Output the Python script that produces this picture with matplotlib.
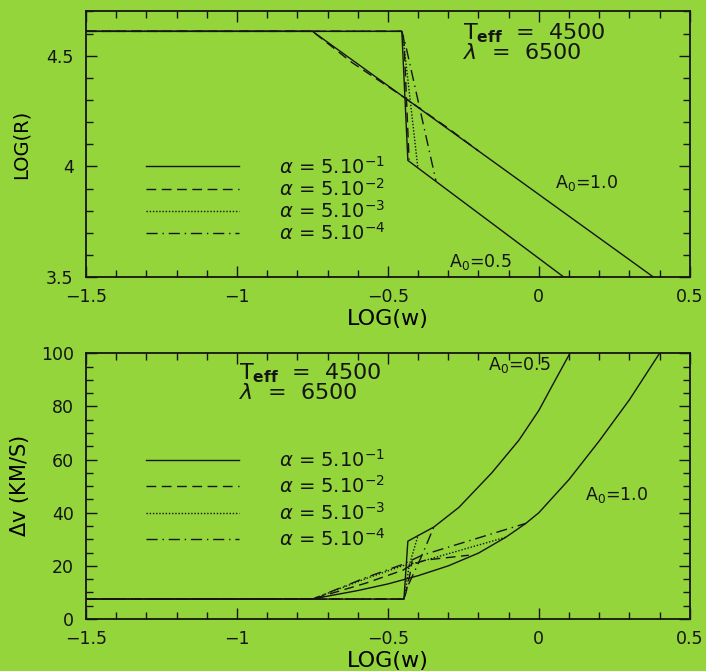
import matplotlib
matplotlib.use("Agg")
import matplotlib.pyplot as plt
from matplotlib.ticker import MultipleLocator

BG = "#93d53b"
INK = "#151515"

# ---- top panel: LOG(R) vs LOG(w) ----
top_a1_solid_x = [-1.5, -0.75, 0.38]
top_a1_solid_y = [4.61, 4.61, 3.5]
top_a1_dashed_x = [-1.5, -0.75, -0.62, -0.45, -0.3, -0.2]
top_a1_dashed_y = [4.61, 4.61, 4.47, 4.315, 4.172, 4.07]

top_a05_solid_x = [-1.5, -0.454, -0.434, 0.083]
top_a05_solid_y = [4.61, 4.61, 4.027, 3.5]
top_a05_dashed_x = [-1.5, -0.454, -0.447, -0.43]
top_a05_dashed_y = [4.61, 4.61, 4.57, 4.03]
top_a05_dotted_x = [-1.5, -0.454, -0.448, -0.401]
top_a05_dotted_y = [4.61, 4.61, 4.56, 3.995]
top_a05_dashdot_x = [-1.5, -0.454, -0.445, -0.341]
top_a05_dashdot_y = [4.61, 4.61, 4.57, 3.935]

# ---- bottom panel: delta v vs LOG(w) ----
bot_a1_solid_x = [-1.5, -0.75, -0.7, -0.6, -0.5, -0.4, -0.3, -0.2, -0.109, -0.043, 0.0, 0.1, 0.2, 0.3, 0.4]
bot_a1_solid_y = [7.5, 7.5, 8.6, 10.7, 13.2, 16.3, 20.0, 24.8, 30.8, 36.0, 40.0, 52.5, 67.0, 82.5, 100.0]
bot_a1_dashed_x = [-1.5, -0.75, -0.573, -0.45, -0.42, -0.374, -0.232]
bot_a1_dashed_y = [7.5, 7.5, 13.5, 18.4, 20.5, 22.2, 24.0]
bot_a1_dotted_x = [-1.5, -0.75, -0.573, -0.45, -0.397, -0.109]
bot_a1_dotted_y = [7.5, 7.5, 15.2, 20.1, 21.4, 30.8]
bot_a1_dashdot_x = [-1.5, -0.75, -0.573, -0.45, -0.387, -0.043]
bot_a1_dashdot_y = [7.5, 7.5, 15.6, 20.6, 24.0, 36.0]

bot_a05_solid_x = [-1.5, -0.447, -0.434, -0.348, -0.265, -0.156, -0.066, 0.0, 0.05, 0.103]
bot_a05_solid_y = [7.5, 7.5, 29.3, 34.6, 42.0, 55.0, 67.3, 78.5, 89.0, 100.0]
bot_a05_dashed_x = [-1.5, -0.447, -0.44, -0.425, -0.42]
bot_a05_dashed_y = [7.5, 7.5, 10.0, 18.0, 22.0]
bot_a05_dotted_x = [-1.5, -0.447, -0.44, -0.43, -0.40]
bot_a05_dotted_y = [7.5, 7.5, 12.0, 20.0, 31.6]
bot_a05_dashdot_x = [-1.5, -0.447, -0.44, -0.391, -0.348]
bot_a05_dashdot_y = [7.5, 7.5, 11.0, 23.0, 34.6]

alpha_labels = [r"$\alpha$ = 5.10$^{-1}$", r"$\alpha$ = 5.10$^{-2}$",
                r"$\alpha$ = 5.10$^{-3}$", r"$\alpha$ = 5.10$^{-4}$"]
top_legend_y = [4.0, 3.9, 3.8, 3.7]
bot_legend_y = [60, 50, 40, 30]

styles = ["-", (0, (7, 4)), (0, (1, 1.3)), (0, (8, 3.5, 1, 3.5))]

fig = plt.figure(figsize=(7.06, 6.71), dpi=100, facecolor=BG)
ax1 = fig.add_axes([0.122, 0.587, 0.855, 0.396], facecolor=BG)
ax2 = fig.add_axes([0.122, 0.0775, 0.855, 0.396], facecolor=BG)

kw = dict(color=INK, lw=1.0)
ax1.plot(top_a1_solid_x, top_a1_solid_y, ls=styles[0], **kw)
ax1.plot(top_a1_dashed_x, top_a1_dashed_y, ls=styles[1], **kw)
ax1.plot(top_a05_solid_x, top_a05_solid_y, ls=styles[0], **kw)
ax1.plot(top_a05_dashed_x, top_a05_dashed_y, ls=styles[1], **kw)
ax1.plot(top_a05_dotted_x, top_a05_dotted_y, ls=styles[2], **kw)
ax1.plot(top_a05_dashdot_x, top_a05_dashdot_y, ls=styles[3], **kw)

ax2.plot(bot_a1_solid_x, bot_a1_solid_y, ls=styles[0], **kw)
ax2.plot(bot_a1_dashed_x, bot_a1_dashed_y, ls=styles[1], **kw)
ax2.plot(bot_a1_dotted_x, bot_a1_dotted_y, ls=styles[2], **kw)
ax2.plot(bot_a1_dashdot_x, bot_a1_dashdot_y, ls=styles[3], **kw)
ax2.plot(bot_a05_solid_x, bot_a05_solid_y, ls=styles[0], **kw)
ax2.plot(bot_a05_dashed_x, bot_a05_dashed_y, ls=styles[1], **kw)
ax2.plot(bot_a05_dotted_x, bot_a05_dotted_y, ls=styles[2], **kw)
ax2.plot(bot_a05_dashdot_x, bot_a05_dashdot_y, ls=styles[3], **kw)

# hand drawn legends
for ax, rows in ((ax1, top_legend_y), (ax2, bot_legend_y)):
    for yy, lab, st in zip(rows, alpha_labels, styles):
        ax.plot([-1.3, -0.995], [yy, yy], ls=st, **kw)
        ax.text(-0.86, yy, lab, fontsize=14, va="center", color=INK)

ax1.text(-0.25, 4.60, r"T$_{\mathbf{eff}}$  =  4500", fontsize=16, va="center", color=INK)
ax1.text(-0.25, 4.51, r"$\lambda$  =  6500", fontsize=16, va="center", color=INK)
ax2.text(-0.995, 92.5, r"T$_{\mathbf{eff}}$  =  4500", fontsize=16, va="center", color=INK)
ax2.text(-0.995, 85, r"$\lambda$  =  6500", fontsize=16, va="center", color=INK)

ax1.text(0.053, 3.923, r"A$_0$=1.0", fontsize=12.5, va="center", color=INK)
ax1.text(-0.298, 3.567, r"A$_0$=0.5", fontsize=12.5, va="center", color=INK)
ax2.text(0.152, 46.6, r"A$_0$=1.0", fontsize=12.5, va="center", color=INK)
ax2.text(-0.168, 95.5, r"A$_0$=0.5", fontsize=12.5, va="center", color=INK)

ax1.set_xlim(-1.5, 0.5)
ax1.set_ylim(3.5, 4.7)
ax1.xaxis.set_minor_locator(MultipleLocator(0.1))
ax1.yaxis.set_minor_locator(MultipleLocator(0.1))
ax1.set_yticks([3.5, 4.0, 4.5])
ax1.set_yticklabels(["3.5", "4", "4.5"])
ax1.set_ylabel("LOG(R)", fontsize=14)

ax2.set_xlim(-1.5, 0.5)
ax2.set_ylim(0, 100)
ax2.xaxis.set_minor_locator(MultipleLocator(0.1))
ax2.yaxis.set_major_locator(MultipleLocator(20))
ax2.yaxis.set_minor_locator(MultipleLocator(5))
ax2.set_ylabel(r"$\Delta$v (KM/S)", fontsize=15)

for ax in (ax1, ax2):
    ax.set_xticks([-1.5, -1.0, -0.5, 0.0, 0.5])
    ax.set_xticklabels(["\u22121.5", "\u22121", "\u22120.5", "0", "0.5"])
    ax.set_xlabel("LOG(w)", fontsize=16, labelpad=2)
    ax.yaxis.set_label_coords(-0.092, 0.5)
    ax.tick_params(which="both", direction="in", top=True, right=True,
                   colors=INK, labelsize=12.5, width=1.0)
    ax.tick_params(axis="y", which="major", pad=9)
    ax.tick_params(axis="x", which="major", pad=8)
    ax.tick_params(which="major", length=8)
    ax.tick_params(which="minor", length=5)
    for sp in ax.spines.values():
        sp.set_linewidth(1.3)
        sp.set_color(INK)

fig.savefig("out.png", dpi=100, facecolor=BG)
